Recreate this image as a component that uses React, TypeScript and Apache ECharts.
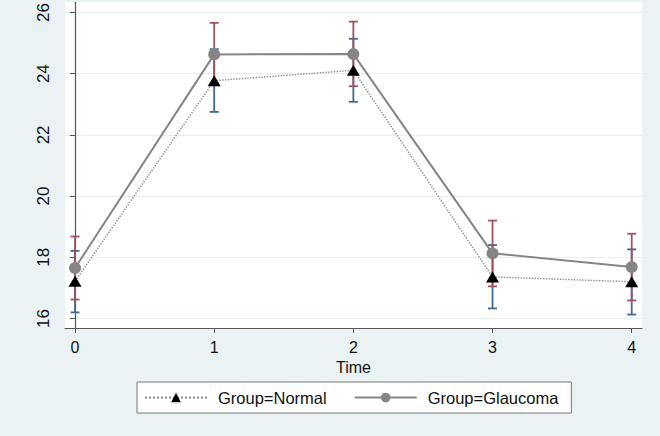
import React, { useEffect, useRef } from "react";
import * as echarts from "echarts";

const times = [0, 1, 2, 3, 4];
const normalMean = [17.22, 23.77, 24.11, 17.36, 17.2];
const normalLow = [16.2, 22.75, 23.08, 16.33, 16.13];
const normalHigh = [18.21, 24.8, 25.14, 18.4, 18.26];
const glaucomaMean = [17.65, 24.63, 24.64, 18.13, 17.68];
const glaucomaLow = [16.62, 23.62, 23.59, 17.05, 16.59];
const glaucomaHigh = [18.68, 25.66, 25.7, 19.2, 18.77];
const yTicks = [16, 18, 20, 22, 24, 26];
const xTicks = [0, 1, 2, 3, 4];
const seriesNames = ["Group=Normal", "Group=Glaucoma"];

const FONT = "'Liberation Sans', Arial, Helvetica, sans-serif";

function errorBar(color: string) {
  return (params: any, api: any) => {
    const x = api.value(0);
    const lo = api.coord([x, api.value(1)]);
    const hi = api.coord([x, api.value(2)]);
    const hw = 4.5;
    const st = { stroke: color, lineWidth: 1.8 };
    return {
      type: "group",
      children: [
        { type: "line", shape: { x1: lo[0], y1: lo[1], x2: hi[0], y2: hi[1] }, style: st },
        { type: "line", shape: { x1: lo[0] - hw, y1: lo[1], x2: lo[0] + hw, y2: lo[1] }, style: st },
        { type: "line", shape: { x1: hi[0] - hw, y1: hi[1], x2: hi[0] + hw, y2: hi[1] }, style: st },
      ],
    };
  };
}

export default function App() {
  const ref = useRef<HTMLDivElement>(null);
  useEffect(() => {
    const chart = echarts.init(ref.current!, null, { renderer: "svg" });
    const option: any = {
      animation: false,
      backgroundColor: "#EAF2F3",
      textStyle: { fontFamily: FONT },
      grid: {
        left: 65,
        right: 18,
        top: 0,
        bottom: 108,
        show: true,
        backgroundColor: "#ffffff",
        borderWidth: 0,
      },
      legend: {
        data: seriesNames,
        left: 137,
        top: 382,
        itemWidth: 62,
        itemHeight: 12,
        itemGap: 27,
        padding: [7, 13, 7, 7],
        borderColor: "#777777",
        borderWidth: 1,
        backgroundColor: "#ffffff",
        borderRadius: 0,
        textStyle: { fontSize: 16.5, color: "#111", fontFamily: FONT, padding: [0, 0, 0, 6] },
      },
      xAxis: {
        type: "value",
        min: -0.072,
        max: 4.074,
        name: "Time",
        nameLocation: "middle",
        nameGap: 27,
        nameTextStyle: { fontSize: 16, color: "#111", fontFamily: FONT },
        axisLine: { show: true, lineStyle: { color: "#555", width: 1.2 } },
        axisTick: { show: true, length: 5, customValues: xTicks, lineStyle: { color: "#555" } },
        axisLabel: { customValues: xTicks, fontSize: 16, color: "#111", margin: 11, fontFamily: FONT },
        splitLine: { show: false },
      },
      yAxis: {
        type: "value",
        min: 15.69,
        max: 26.33,
        axisLine: { show: true, lineStyle: { color: "#555", width: 1.2 } },
        axisTick: { show: true, length: 5, customValues: yTicks, lineStyle: { color: "#555" } },
        axisLabel: { customValues: yTicks, fontSize: 17, color: "#111", rotate: 90, margin: 13, fontFamily: FONT },
        splitLine: { show: true, lineStyle: { color: "#E6EEF0", width: 1 } },
      },
      series: [
        {
          type: "custom",
          name: "ciNormal",
          renderItem: errorBar("#3F6A92"),
          encode: { x: 0, y: [1, 2] },
          data: times.map((t, i) => [t, normalLow[i], normalHigh[i]]),
          z: 2,
        },
        {
          type: "custom",
          name: "ciGlaucoma",
          renderItem: errorBar("#A3505F"),
          encode: { x: 0, y: [1, 2] },
          data: times.map((t, i) => [t, glaucomaLow[i], glaucomaHigh[i]]),
          z: 3,
        },
        {
          type: "line",
          name: seriesNames[0],
          data: times.map((t, i) => [t, normalMean[i]]),
          symbol: "triangle",
          symbolSize: [13, 11],
          itemStyle: { color: "#000000" },
          lineStyle: { color: "#8a8a8a", width: 1.4, type: "dotted" },
          z: 4,
        },
        {
          type: "line",
          name: seriesNames[1],
          data: times.map((t, i) => [t, glaucomaMean[i]]),
          symbol: "circle",
          symbolSize: 12,
          itemStyle: { color: "#858585" },
          lineStyle: { color: "#858585", width: 2 },
          z: 5,
        },
      ],
    };
    chart.setOption(option);
    return () => chart.dispose();
  }, []);
  return (
    <div
      ref={ref}
      style={{ position: "absolute", left: 0, top: 0, width: 660, height: 436 }}
    />
  );
}
